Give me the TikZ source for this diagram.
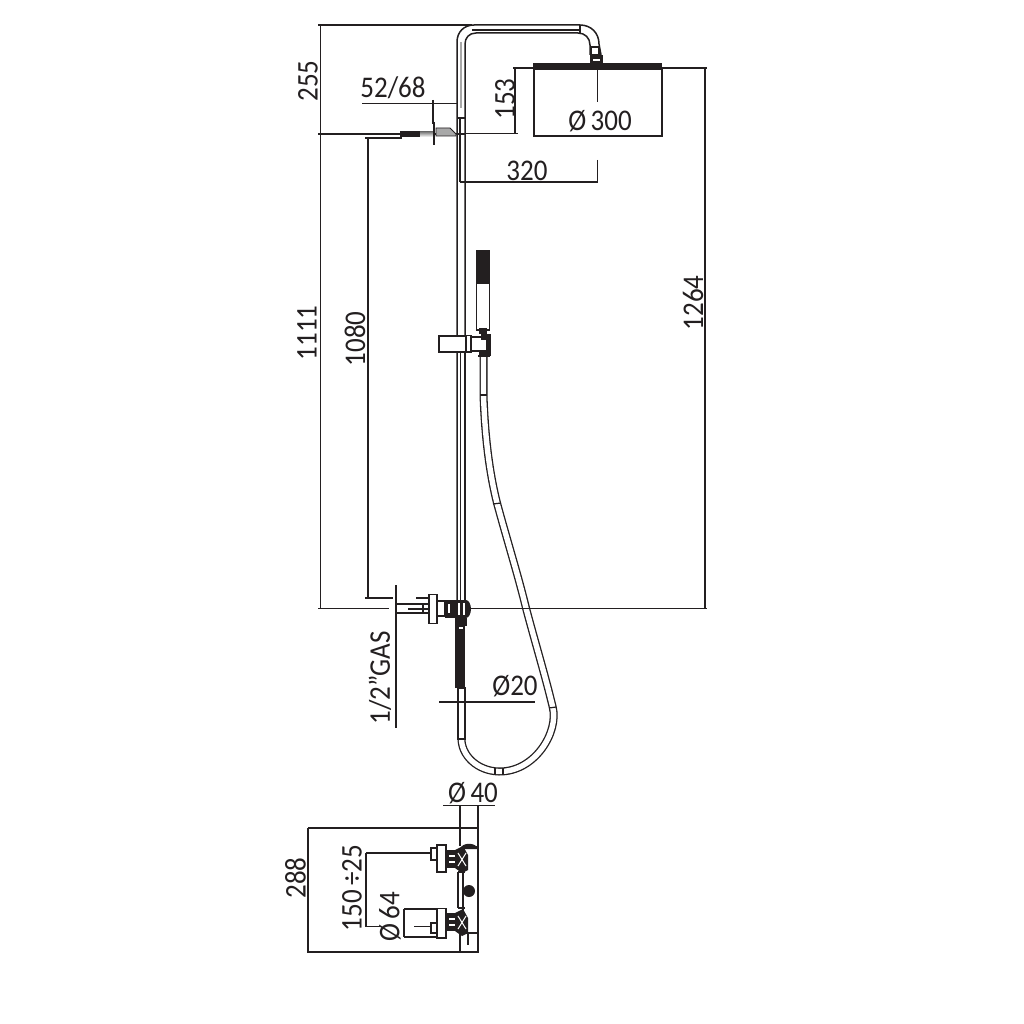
\documentclass[tikz,border=0pt]{standalone}
\usepackage{graphicx}
\usepackage{fontspec}
\setmainfont{Carlito}
\definecolor{ink}{HTML}{231F20}
\definecolor{shade}{HTML}{A8A8A8}
\newcommand{\narrowtext}[1]{\scalebox{.9}[1]{#1}}
\tikzset{
  dimline/.style={draw=ink,line width=1.2pt},
  part/.style={draw=ink,line width=1.5pt},
  heavy/.style={draw=ink,line width=2pt},
  grey part/.style={fill=shade,draw=ink,line width=.8pt},
  hose/.style={draw=ink,line width=1.3pt,double=white,double distance=5.4pt},
  dimtext/.style={text=ink,inner sep=0pt,font=\fontsize{30}{30}\selectfont},
  dimup/.style={dimtext,rotate=90}
}
\begin{document}
\begin{tikzpicture}[x=1pt,y=-1pt]
\useasboundingbox (0,0) rectangle (1024,1024);
\fill[white] (0,0) rectangle (1024,1024);
% dimensions, top
\draw[dimline] (318,25) -- (472,25);
\draw[dimline] (320.5,25) -- (320.5,608.5);
\draw[dimline] (318,134) -- (466,134);
\draw[dimline] (365,138) -- (402,138);
\draw[dimline] (368,138) -- (368,598);
\draw[dimline] (365,598) -- (393,598);
\draw[dimline] (318,608.5) -- (389,608.5);
\draw[dimline] (470,608.5) -- (707,608.5);
\draw[dimline] (362,103.7) -- (458,103.7);
\draw[dimline] (433,100) -- (433,124);
\draw[dimline] (466,133.5) -- (518,133.5);
\draw[dimline] (515,68) -- (515,133.5);
\draw[dimline] (513,68) -- (534,68);
\draw[dimline] (460,182) -- (598,182);
\draw[dimline] (597.7,160) -- (597.7,183);
\draw[dimline] (597.7,69) -- (597.7,102);
\draw[dimline] (662,68) -- (707,68);
\draw[dimline] (705,68) -- (705,608.5);
% shower column, top part
\draw[part] (457,600) -- (457,42) .. controls (457,32) and (464,25) .. (474,25) -- (580,25)
  .. controls (591,25) and (599,33) .. (599,44) -- (601,55);
\draw[part] (465,352) -- (465,44) .. controls (465,38) and (469,33) .. (476,33) -- (578,33)
  .. controls (585,33) and (590,38) .. (590,45) -- (590,55);
\draw[draw=shade,line width=1.5pt] (461,42) -- (461,108);
\draw[dimline] (472,30) -- (580,30);
\draw[dimline] (580,25) -- (580,33);
\draw[part] (465,352) -- (465,600);
\draw[dimline] (460.5,352) -- (460.5,600);
\draw[part] (457,118) -- (466,118);
\draw[part] (460,118) -- (460,182);
% rain head
\draw[part,fill=white] (591,47) rectangle (599,55);
\fill[ink] (590,55) rectangle (603,63);
\fill[white] (593,59) rectangle (600,61);
\fill[ink] (533,63) rectangle (662,69);
\draw[part] (534,69) rectangle (662,136);
% wall arm
\fill[ink] (400,131) rectangle (420,137);
\fill[shade] (420,132) rectangle (433,137);
\draw[heavy] (433.5,122) -- (433.5,145);
\draw[grey part] (436,128) -- (450,128) -- (456,134) -- (456,136) -- (436,136) -- cycle;
% slider and hand shower
\fill[ink] (476,250) rectangle (490,283);
\draw[part,fill=white] (476.5,283) rectangle (489.5,330);
\fill[ink] (479,328) rectangle (487,334);
\draw[heavy,fill=white] (439,335.5) rectangle (466,352);
\draw[part,fill=white] (466,335.5) rectangle (471,352);
\draw[part,fill=white] (471,337) rectangle (488,351);
\fill[ink] (481,334) rectangle (491,340);
\fill[ink] (486,340) rectangle (491,356);
\fill[ink] (479,352) rectangle (488,357);
% hose
\draw[hose] (483.5,355) -- (483.5,395)
  .. controls (485,440) and (490,475) .. (497,503)
  .. controls (507,540) and (518,575) .. (526,608)
  .. controls (535,642) and (545,675) .. (552.7,707)
  .. controls (559,732) and (535,772) .. (499,771.5)
  .. controls (477,771) and (461,755) .. (461.5,738);
\draw[dimline] (478,356) -- (490,356);
\draw[dimline] (480,395) -- (487,395);
\draw[dimline] (493,504) -- (501,503);
\draw[dimline] (549,708) -- (556,707);
\draw[dimline] (495,768) -- (495,775);
\draw[dimline] (503,768) -- (503,775);
\draw[dimline] (470,608.5) -- (707,608.5);
% wall connection
\draw[dimline] (396,585) -- (396,728);
\draw[dimline] (396,604) -- (430,604);
\draw[dimline] (396,613) -- (430,613);
\draw[dimline] (416,598) -- (430,598);
\draw[dimline] (408,609) -- (430,609);
\draw[dimline] (423,604) -- (423,613);
\draw[part,fill=white] (429,594.5) rectangle (437,623.5);
\draw[part,fill=white] (437,601) rectangle (445,616);
\fill[ink] (445,600) rectangle (456,618);
\fill[white] (448,604) rectangle (450,613);
\fill[ink] (455,600) -- (466,600) .. controls (469,600) and (471,605) .. (471,609) .. controls (471,613) and (469,618) .. (466,618) -- (455,618) -- cycle;
\fill[white] (458,603) rectangle (460,615);
\fill[white] (463,603) rectangle (465,615);
\fill[ink] (455,618) rectangle (467,626);
\fill[ink] (455,626) rectangle (465,688);
\fill[white] (459,626.5) rectangle (463,628.5);
\draw[part,fill=white] (458,688) rectangle (465,739);
\draw[dimline] (439,702) -- (535,702);
% bottom dimensions
\draw[dimline] (443,805.7) -- (495,805.7);
\draw[dimline] (460,805.7) -- (460,846);
\draw[dimline] (478,805.7) -- (478,953);
\draw[heavy] (308,828) -- (478,828);
\draw[heavy] (308,828) -- (308,952) -- (478,952);
\draw[dimline] (460,932) -- (460,953);
\draw[dimline] (468,932) -- (468,945);
\draw[dimline] (366,853) -- (431,853);
\draw[dimline] (366,853) -- (366,926.5) -- (381,926.5);
% mixer body
\draw[part,fill=white] (463,847) rectangle (478,933);
\fill[ink] (460,849) .. controls (462,842) and (476,842) .. (478,849) -- cycle;
\draw[part] (458,872) -- (458,908);
\draw[part] (458,872) -- (465,872);
\draw[part] (458,908) -- (465,908);
\fill[ink] (469,891) circle[radius=6];
% upper connection
\draw[part,fill=white] (431,848) rectangle (437,860);
\draw[part,fill=white] (437,845) rectangle (446,872);
\fill[ink] (446,850) rectangle (455,868);
\fill[white] (449,855) rectangle (455,857);
\fill[white] (449,861) rectangle (455,863);
\fill[ink] (455,850) -- (463,846) -- (468,855) -- (468,870) -- (462,873) -- (455,868) -- cycle;
\draw[white,line width=1pt] (458,853) -- (466,866);
\draw[white,line width=1pt] (466,853) -- (458,866);
% lower connection
\draw[part] (404,909) -- (437,909);
\draw[part] (404,937) -- (437,937);
\draw[part] (404,909) -- (404,937);
\draw[dimline] (414,926.5) -- (431,926.5);
\draw[part,fill=white] (431,923) rectangle (437,933);
\draw[part,fill=white] (437,908.5) rectangle (446,938);
\fill[ink] (446,913) rectangle (455,931);
\fill[white] (449,918) rectangle (455,920);
\fill[white] (449,924) rectangle (455,926);
\fill[ink] (455,913) -- (463,909) -- (468,918) -- (468,933) -- (462,936) -- (455,931) -- cycle;
\draw[white,line width=1pt] (458,916) -- (466,929);
\draw[white,line width=1pt] (466,916) -- (458,929);
% labels
\node[dimup] (l255) at (308,81) {\narrowtext{255}};
\node[dimtext] (l5268) at (393,88) {\narrowtext{52/68}};
\node[dimup] (l153) at (505,99) {\narrowtext{153}};
\node[dimtext] (l300) at (600,121) {\narrowtext{Ø\,300}};
\node[dimtext] (l320) at (527,171) {\narrowtext{320}};
\node[dimup] (l1264) at (693,303) {\narrowtext{1264}};
\node[dimup] (l1111) at (307,333) {\narrowtext{1111}};
\node[dimup] (l1080) at (355,339) {\narrowtext{1080}};
\node[dimup] (lgas) at (380,678) {\narrowtext{1/2"GAS}};
\node[dimtext] (l20) at (515,686) {\narrowtext{Ø20}};
\node[dimtext] (l40) at (473,793) {\narrowtext{Ø\,40}};
\node[dimup] (l288) at (295.5,878) {\narrowtext{288}};
\node[dimup] (l150) at (352,888) {\narrowtext{150\,÷25}};
\node[dimup] (l64) at (390,917) {\narrowtext{Ø\,64}};
\end{tikzpicture}
\end{document}
